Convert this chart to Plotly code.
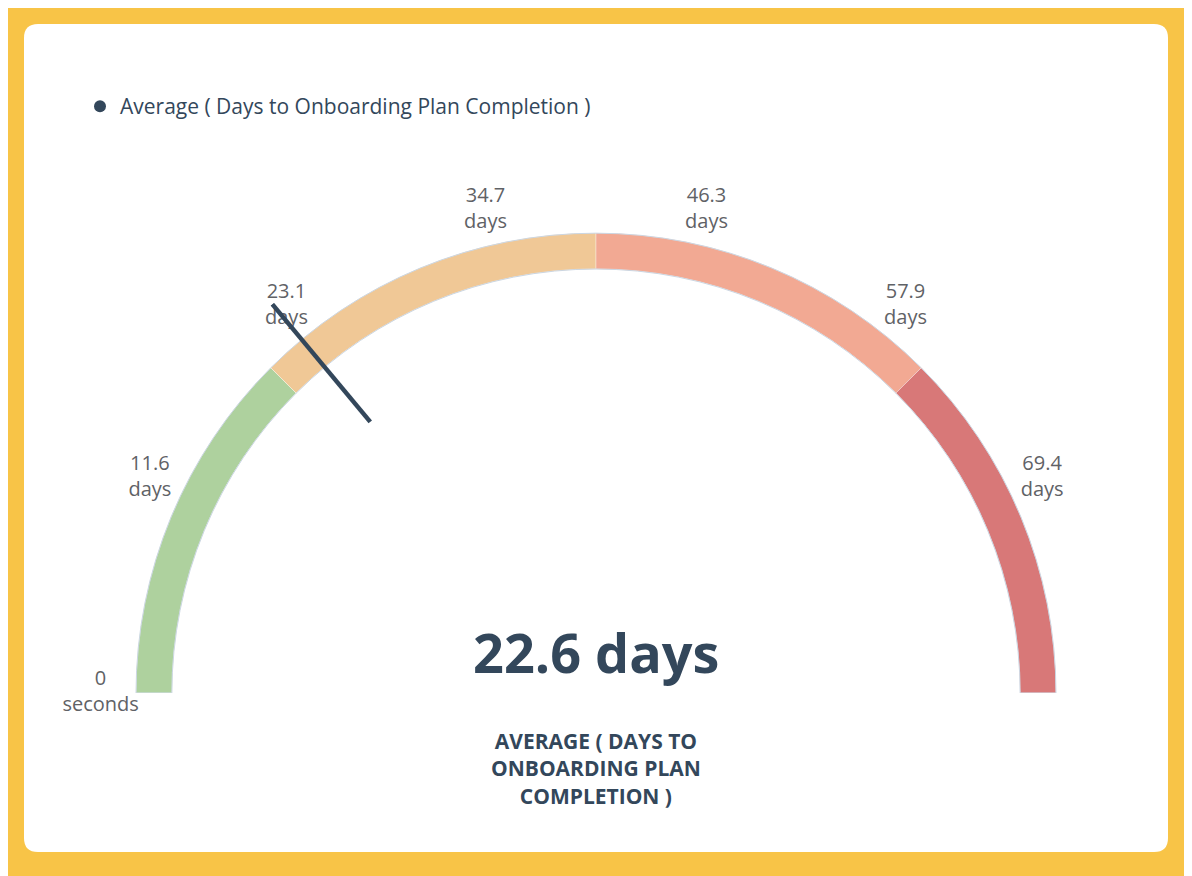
import plotly.graph_objects as go

# gauge data
GAUGE_MAX = 81.0
band_starts = [0.0, 20.25, 40.5, 60.75]
band_ends = [20.25, 40.5, 60.75, 81.0]
band_colors = ["#AED19E", "#F0C896", "#F2A993", "#D87878"]
tick_values = [0, 11.6, 23.1, 34.7, 46.3, 57.9, 69.4]
tick_labels = ["0<br>seconds", "11.6<br>days", "23.1<br>days", "34.7<br>days",
               "46.3<br>days", "57.9<br>days", "69.4<br>days"]
average_value = 22.6
value_label = "22.6 days"
series_name = "Average ( Days to Onboarding Plan Completion )"
title_text = "AVERAGE ( DAYS TO<br>ONBOARDING PLAN<br>COMPLETION )"

FONT = "Open Sans"
DARK = "#33475B"
W, H = 1192, 876
OFF = 8  # page body margin


def to_deg(v):
    return v / GAUGE_MAX * 180.0


def px(x):
    return (x - OFF) / W


def py(y):
    return 1 - (y - OFF) / H


fig = go.Figure()

# coloured bands
fig.add_trace(go.Barpolar(
    theta=[to_deg((s + e) / 2) for s, e in zip(band_starts, band_ends)],
    width=[to_deg(e - s) for s, e in zip(band_starts, band_ends)],
    r=[0.078] * len(band_starts),
    base=0.922,
    marker=dict(color=band_colors, line=dict(color="rgba(255,255,255,0.6)", width=0.6)),
    hoverinfo="skip", showlegend=False,
))

# thin outline round the whole arc
fig.add_trace(go.Barpolar(
    theta=[90], width=[180], r=[0.078], base=0.922,
    marker=dict(color="rgba(0,0,0,0)", line=dict(color="#CBD6E2", width=1)),
    hoverinfo="skip", showlegend=False,
))

# tick labels
fig.add_trace(go.Scatterpolar(
    r=[1.077] * len(tick_values),
    theta=[to_deg(v) for v in tick_values],
    mode="text", text=tick_labels, textposition="middle center",
    textfont=dict(family=FONT, size=20, color="#5F6266"),
    cliponaxis=False, hoverinfo="skip", showlegend=False,
))

# needle
fig.add_trace(go.Scatterpolar(
    r=[0.767, 1.1],
    theta=[to_deg(average_value)] * 2,
    mode="lines", line=dict(color=DARK, width=4.5),
    cliponaxis=False, hoverinfo="skip", showlegend=False,
))

# legend entry
fig.add_trace(go.Scatterpolar(
    r=[None], theta=[None], mode="markers", name=series_name,
    marker=dict(color=DARK, size=13), showlegend=True,
))

cx, cy, R = 596, 693, 506
fig.update_layout(
    width=W, height=H,
    margin=dict(l=0, r=0, t=0, b=0),
    paper_bgcolor="#F8C447",
    plot_bgcolor="white",
    font=dict(family=FONT, color=DARK),
    polar=dict(
        domain=dict(x=[px(cx - R), px(cx + R)], y=[py(cy), py(cy - R)]),
        sector=[0, 180],
        bgcolor="rgba(0,0,0,0)",
        angularaxis=dict(visible=False, direction="clockwise", rotation=180),
        radialaxis=dict(visible=False, range=[0, 1.1]),
        barmode="overlay",
    ),
    legend=dict(x=px(80), y=py(86), xanchor="left", yanchor="top",
                bgcolor="rgba(0,0,0,0)", font=dict(family=FONT, size=21, color=DARK),
                itemsizing="constant"),
)

# white rounded card
x0, y0, x1, y1, rr = px(24), py(24), px(1168), py(852), 14
rx, ry = rr / W, rr / H
card = (f"M {x0 + rx},{y0} L {x1 - rx},{y0} Q {x1},{y0} {x1},{y0 - ry} "
        f"L {x1},{y1 + ry} Q {x1},{y1} {x1 - rx},{y1} L {x0 + rx},{y1} "
        f"Q {x0},{y1} {x0},{y1 + ry} L {x0},{y0 - ry} Q {x0},{y0} {x0 + rx},{y0} Z")
fig.add_shape(type="path", path=card, xref="paper", yref="paper",
              fillcolor="white", line=dict(width=0), layer="below")

fig.add_annotation(text=f"<b>{value_label}</b>", x=px(cx), y=py(652),
                   xref="paper", yref="paper", showarrow=False,
                   xanchor="center", yanchor="middle",
                   font=dict(family=FONT, size=54, color=DARK))
fig.add_annotation(text=f"<b>{title_text}</b>", x=px(cx), y=py(768),
                   xref="paper", yref="paper", showarrow=False,
                   xanchor="center", yanchor="middle",
                   font=dict(family=FONT, size=21, color=DARK))

fig.write_html("out.html")
